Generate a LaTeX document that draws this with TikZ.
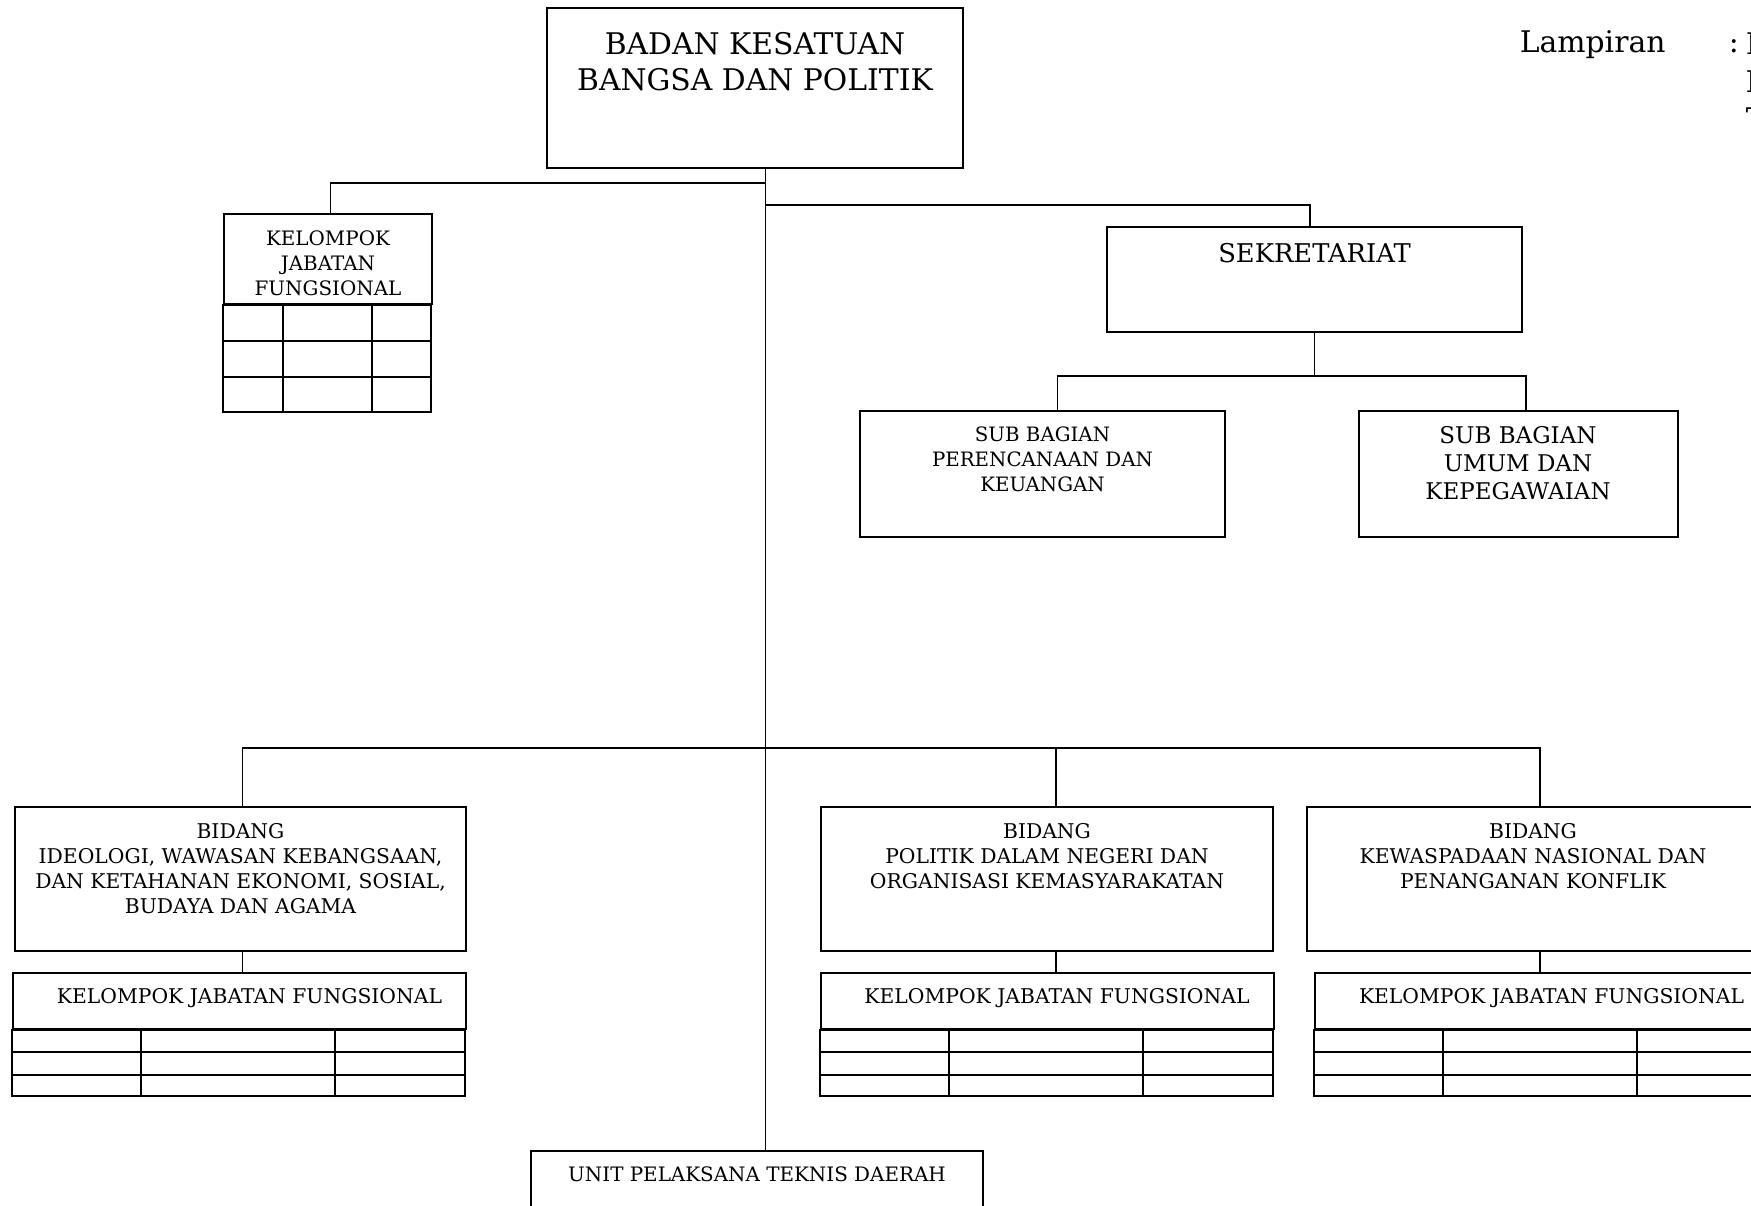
\documentclass[tikz,border=0pt]{standalone}
\usepackage{fontspec}
\setmainfont{DejaVu Serif}
\newcommand{\unittext}[4]{\parbox[c][#2][t]{#1}{\centering\vspace*{#3}#4}}
\begin{document}
\begin{tikzpicture}[
        x=1pt, y=-1pt,
        line width=1.7pt
    ]
    \tikzset{
        unitbox/.style = {rectangle, draw=black, line width=2pt, inner sep=0pt},
        link/.style = {draw=black, line width=1.7pt},
        grid/.style = {draw=black, line width=2pt},
        lampfont/.style = {inner sep=0pt, font=\fontsize{29.8}{37.5}\selectfont},
    }
    \useasboundingbox (0,0) rectangle (1751,1206);
    \clip (0,0) rectangle (1751,1206);
    % head and staff
    \node[unitbox, font=\fontsize{29.8}{36}\selectfont] (badan) at (755,88) {\unittext{416pt}{160pt}{24pt}{BADAN KESATUAN\\BANGSA DAN POLITIK}};
    \node[unitbox, font=\fontsize{19.9}{25}\selectfont] (kjf) at (328,259) {\unittext{208pt}{90pt}{16.5pt}{KELOMPOK\\JABATAN\\FUNGSIONAL}};
    \node[unitbox, font=\fontsize{25.8}{30}\selectfont] (sek) at (1314.5,279.5) {\unittext{415pt}{105pt}{16pt}{SEKRETARIAT}};
    \node[unitbox, font=\fontsize{19.8}{25}\selectfont] (sub1) at (1042.5,474) {\unittext{365pt}{126pt}{16pt}{SUB BAGIAN\\PERENCANAAN DAN\\KEUANGAN}};
    \node[unitbox, font=\fontsize{23}{28}\selectfont] (sub2) at (1518,474) {\unittext{319pt}{126pt}{15.5pt}{SUB BAGIAN\\UMUM DAN\\KEPEGAWAIAN}};
    % bidang
    \node[unitbox, font=\fontsize{20.3}{25}\selectfont] (bida) at (240.5,879) {\unittext{451pt}{144pt}{16.5pt}{BIDANG\\IDEOLOGI, WAWASAN KEBANGSAAN,\\DAN KETAHANAN EKONOMI, SOSIAL,\\BUDAYA DAN AGAMA}};
    \node[unitbox, font=\fontsize{20.3}{25}\selectfont] (bidb) at (1047,879) {\unittext{452pt}{144pt}{16.5pt}{BIDANG\\POLITIK DALAM NEGERI DAN\\ORGANISASI KEMASYARAKATAN}};
    \node[unitbox, font=\fontsize{20.3}{25}\selectfont] (bidc) at (1533,879) {\unittext{452pt}{144pt}{16.5pt}{BIDANG\\KEWASPADAAN NASIONAL DAN\\PENANGANAN KONFLIK}};
    \node[unitbox, font=\fontsize{20.3}{25}\selectfont] (kjfa) at (239.5,1001) {\unittext{453pt}{56pt}{15.3pt}{\hspace*{20pt}KELOMPOK JABATAN FUNGSIONAL}};
    \node[unitbox, font=\fontsize{20.3}{25}\selectfont] (kjfb) at (1047,1001) {\unittext{453pt}{56pt}{15.3pt}{\hspace*{20pt}KELOMPOK JABATAN FUNGSIONAL}};
    \node[unitbox, font=\fontsize{20.3}{25}\selectfont] (kjfc) at (1541.5,1001) {\unittext{453pt}{56pt}{15.3pt}{\hspace*{20pt}KELOMPOK JABATAN FUNGSIONAL}};
    \node[unitbox, font=\fontsize{19.9}{28}\selectfont] (uptd) at (757,1201) {\unittext{452pt}{100pt}{16pt}{UNIT PELAKSANA TEKNIS DAERAH}};
    % lampiran
    \node[lampfont, anchor=base west] (lamp) at (1519,53) {Lampiran};
    \node[lampfont, anchor=base west] (colon) at (1728,53) {:};
    \node[lampfont, anchor=north west, align=left] (lampval) at (1745,32) {P\\N\\T};
    % tables
    \draw[grid] (kjf.south west) rectangle ++(208,107);
    \foreach \dy in {36,72} \draw[grid] (kjf.south west) ++(0,\dy) -- ++(208,0);
    \foreach \dx in {60,149} \draw[grid] (kjf.south west) ++(\dx,0) -- ++(0,107);
    \foreach \g in {kjfa,kjfb,kjfc} {
        \draw[grid] (\g.south west) rectangle ++(453,66);
        \foreach \dy in {22,45} \draw[grid] (\g.south west) ++(0,\dy) -- ++(453,0);
        \foreach \dx in {129,323} \draw[grid] (\g.south west) ++(\dx,0) -- ++(0,66);
    }
    % connectors
    \coordinate (spine) at ([xshift=10.5pt]badan.south);
    \draw[link] (spine) -- (spine |- uptd.north);
    \draw[link] ([xshift=2.5pt]kjf.north) -- ++(0,-30) coordinate (kj) -- (kj -| spine);
    \draw[link] ([xshift=-4.5pt]sek.north) -- ++(0,-21) coordinate (sk) -- (sk -| spine);
    \draw[link] (sek.south) -- ++(0,43) coordinate (sb);
    \draw[link] ([xshift=15pt]sub1.north) |- (sb) -| ([xshift=8pt]sub2.north);
    \draw[link] ([xshift=2pt]bida.north) -- ++(0,-58) coordinate (ba) -- (ba -| bidc.north) -- ++(7,0) coordinate (bc) -- ([xshift=7pt]bidc.north);
    \draw[link] ([xshift=9pt]bidb.north) -- ++(0,-58);
    \draw[link] ([xshift=2pt]bida.south) -- ([xshift=2pt]bida.south |- kjfa.north);
    \draw[link] ([xshift=9pt]bidb.south) -- ([xshift=9pt]bidb.south |- kjfb.north);
    \draw[link] ([xshift=7pt]bidc.south) -- ([xshift=7pt]bidc.south |- kjfc.north);
\end{tikzpicture}
\end{document}
